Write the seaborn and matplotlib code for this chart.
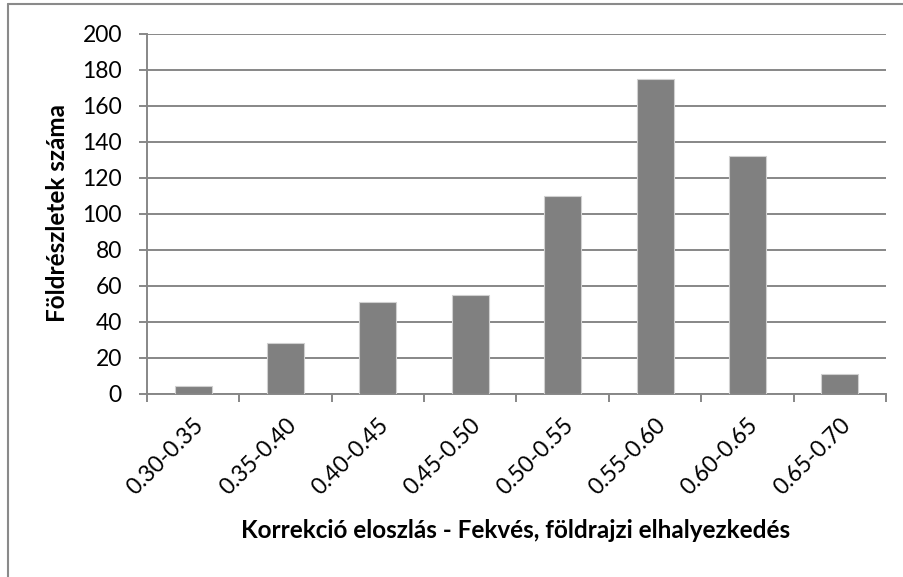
import matplotlib
matplotlib.use("Agg")
import matplotlib.pyplot as plt
import seaborn as sns
import pandas as pd
from matplotlib.lines import Line2D

categories = ["0.30-0.35", "0.35-0.40", "0.40-0.45", "0.45-0.50",
              "0.50-0.55", "0.55-0.60", "0.60-0.65", "0.65-0.70"]
counts = [4, 28, 51, 55, 110, 175, 132, 11]
y_ticks = [0, 20, 40, 60, 80, 100, 120, 140, 160, 180, 200]
x_title = "Korrekció eloszlás - Fekvés, földrajzi elhalyezkedés"
y_title = "Földrészletek száma"

sns.set_theme(style="white")
plt.rcParams['font.family'] = ['Lato', 'DejaVu Sans']
plt.rcParams['text.color'] = 'black'
plt.rcParams['xtick.color'] = 'black'
plt.rcParams['ytick.color'] = 'black'

df = pd.DataFrame({"cat": categories, "n": counts})

fig = plt.figure(figsize=(9.04, 5.77), dpi=100)
ax = fig.add_axes([147/904, 1-393.5/577, (886-147)/904, (393.5-33.5)/577])

sns.barplot(data=df, x="cat", y="n", color="#808080", saturation=1,
            width=0.4, edgecolor="#d0d0d0", linewidth=0.8, ax=ax, zorder=3)

grid_c = "#878787"
ax.set_ylim(0, 200)
ax.set_xlim(-0.5, len(categories) - 0.5)
ax.set_yticks(y_ticks)
ax.yaxis.grid(True, color=grid_c, linewidth=1.4)
ax.set_axisbelow(True)

for s in ["top", "right"]:
    ax.spines[s].set_visible(False)
for s in ["left", "bottom"]:
    ax.spines[s].set_color(grid_c)
    ax.spines[s].set_linewidth(1.4)

ax.tick_params(axis="y", length=6, width=1.4, color=grid_c, labelcolor="black",
               labelsize=16.5, pad=12, left=True)
ax.set_xticks(range(len(categories)))
ax.set_xticklabels(categories, rotation=45, ha="right", rotation_mode="anchor",
                   fontsize=16.5, color="black")
ax.tick_params(axis="x", which="major", length=0, pad=15)
ax.set_xticks([i - 0.5 for i in range(len(categories) + 1)], minor=True)
ax.tick_params(axis="x", which="minor", length=6, width=1.4, color=grid_c, bottom=True)

ax.set_xlabel("")
ax.set_ylabel("")
fig.text(516/904, 1-531/577, x_title, ha="center", va="center",
         fontsize=17.5, fontweight="bold", color="black")
fig.text(58/904, 1-213/577, y_title, ha="center", va="center",
         rotation=90, fontsize=17.5, fontweight="bold", color="black")

fig.add_artist(Line2D([8/904, 8/904], [0, 1-4/577], transform=fig.transFigure,
                      color="#8a8a8a", linewidth=1.5))
fig.add_artist(Line2D([8/904, 1], [1-4/577, 1-4/577], transform=fig.transFigure,
                      color="#8a8a8a", linewidth=1.5))

fig.savefig("out.png", dpi=100)
